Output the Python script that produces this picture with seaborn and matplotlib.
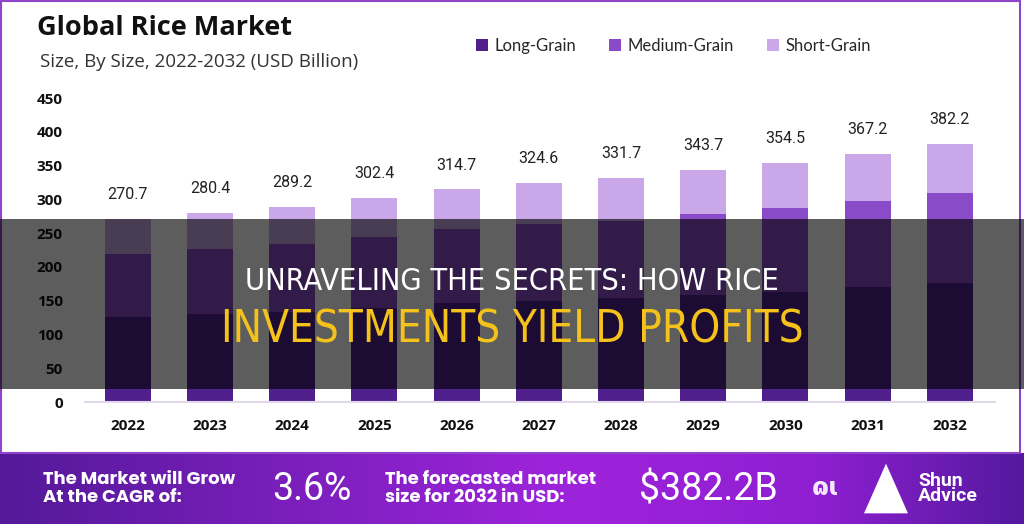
import matplotlib
matplotlib.use("Agg")
import matplotlib.pyplot as plt
from matplotlib.patches import Patch, Rectangle, Polygon
import numpy as np
import pandas as pd
import seaborn as sns

########### DATA ##################################
years = ['2022', '2023', '2024', '2025', '2026', '2027', '2028', '2029', '2030', '2031', '2032']
long_grain = [126.4, 129.9, 133.8, 139.7, 146.2, 150.1, 153.6, 158.5, 163.4, 169.9, 176.7]
medium_grain = [92.4, 96.3, 99.8, 104.3, 110.1, 113.2, 114.5, 119.6, 123.6, 127.9, 132.5]
short_grain = [51.9, 54.2, 55.6, 58.4, 58.4, 61.3, 63.6, 65.6, 67.5, 69.4, 73.0]
totals = [270.7, 280.4, 289.2, 302.4, 314.7, 324.6, 331.7, 343.7, 354.5, 367.2, 382.2]
y_ticks = [0, 50, 100, 150, 200, 250, 300, 350, 400, 450]
series = ['Long-Grain', 'Medium-Grain', 'Short-Grain']
colors = ['#4f1f8b', '#8a4bc9', '#caa7e8']

df = pd.DataFrame({'year': years, 'long': long_grain,
                   'medium': medium_grain, 'short': short_grain})
df['lm'] = df['long'] + df['medium']
df['lms'] = df['lm'] + df['short']

W, H = 1024, 524
sns.set_style("white")
plt.rcParams['font.family'] = ['Open Sans', 'DejaVu Sans']

fig = plt.figure(figsize=(W / 100, H / 100), dpi=100)
fig.patch.set_facecolor('white')

ax = fig.add_axes([85 / W, (H - 402) / H, (995 - 85) / W, (402 - 98) / H])

########### STACKED BARS (drawn back to front) ####
sns.barplot(data=df, x='year', y='lms', color=colors[2], width=0.56,
            saturation=1, linewidth=0, ax=ax)
sns.barplot(data=df, x='year', y='lm', color=colors[1], width=0.56,
            saturation=1, linewidth=0, ax=ax)
sns.barplot(data=df, x='year', y='long', color=colors[0], width=0.56,
            saturation=1, linewidth=0, ax=ax)

for i, t in enumerate(totals):
    ax.annotate(f'{t}', (i, t), xytext=(0, 12), textcoords='offset points',
                ha='center', va='bottom', fontsize=11.5, color='#222222',
                family=['Roboto', 'DejaVu Sans'])

ax.set_xlim(-0.52, 10.55)
ax.set_ylim(0, 450)
ax.set_yticks(y_ticks)
ax.set_yticklabels([str(v) for v in y_ticks], fontweight='bold', fontsize=11)
ax.set_xticks(range(len(years)))
ax.set_xticklabels(years, fontweight='bold', fontsize=11)
ax.tick_params(axis='both', length=0, colors='#111111')
ax.tick_params(axis='y', pad=16)
ax.tick_params(axis='x', pad=12)
ax.set_xlabel('')
ax.set_ylabel('')
for s in ['top', 'right', 'left']:
    ax.spines[s].set_visible(False)
ax.spines['bottom'].set_color('#e2d8ec')
ax.spines['bottom'].set_linewidth(1.5)

########### TITLES / LEGEND #######################
fig.text(37 / W, 1 - 28 / H, 'Global Rice Market', fontsize=19.5, fontweight='bold',
         color='#111111', va='center', ha='left')
fig.text(40 / W, 1 - 62 / H, 'Size, By Size, 2022-2032 (USD Billion)', fontsize=13.5,
         color='#333333', va='center', ha='left')

handles = [Patch(facecolor=c, edgecolor='none') for c in colors]
fig.legend(handles, series, loc='center left', bbox_to_anchor=(476 / W, 1 - 46 / H),
           ncol=3, frameon=False, handlelength=0.7, handleheight=0.7,
           handletextpad=0.4, columnspacing=2.0, borderpad=0, borderaxespad=0,
           prop={'family': ['Lato', 'DejaVu Sans'], 'size': 12})

# purple frame around chart card
fig.patches.append(Rectangle((1 / W, (H - 453) / H), (1020 - 1) / W, (453 - 1) / H,
                             transform=fig.transFigure, fill=False,
                             edgecolor='#8f45c9', linewidth=1.5, zorder=3))

########### DARK OVERLAY BAND #####################
fig.patches.append(Rectangle((0, (H - 389) / H), 1, (389 - 219) / H,
                             transform=fig.transFigure, facecolor='black',
                             alpha=0.635, edgecolor='none', zorder=5))
cond = ['Liberation Sans Narrow', 'DejaVu Sans']
fig.text(0.5, 1 - 281 / H, 'UNRAVELING THE SECRETS: HOW RICE', fontsize=22,
         color='white', ha='center', va='center', family=cond, zorder=6,
         fontstretch='condensed')
fig.text(0.5, 1 - 330 / H, 'INVESTMENTS YIELD PROFITS', fontsize=31.5,
         color='#f4c21b', ha='center', va='center', family=cond, zorder=6,
         fontstretch='condensed')

########### BOTTOM BANNER #########################
bax = fig.add_axes([0, 0, 1, (H - 453) / H])
xs = np.linspace(0, 1, 256)
r = np.interp(xs, [0, 0.55, 0.8, 1], [0.33, 0.62, 0.56, 0.33])
g = np.interp(xs, [0, 0.55, 0.8, 1], [0.10, 0.14, 0.12, 0.10])
b = np.interp(xs, [0, 0.55, 0.8, 1], [0.60, 0.86, 0.82, 0.62])
grad = np.dstack([np.tile(r, (10, 1)), np.tile(g, (10, 1)), np.tile(b, (10, 1))])
bax.imshow(grad, aspect='auto', extent=(0, 1, 0, 1))
bax.set_xlim(0, 1)
bax.set_ylim(0, 1)
bax.axis('off')

pop = ['Poppins', 'Lato', 'DejaVu Sans']
bax.text(43 / W, 0.5, 'The Market will Grow\nAt the CAGR of:', color='white',
         fontsize=13, fontweight='bold', va='center', ha='left', family=pop,
         linespacing=1.0)
bax.text(312 / W, 0.48, '3.6%', color='white', fontsize=27, va='center',
         ha='center', family=['Roboto', 'DejaVu Sans'])
bax.text(385 / W, 0.5, 'The forecasted market\nsize for 2032 in USD:', color='white',
         fontsize=13, fontweight='bold', va='center', ha='left', family=pop,
         linespacing=1.0)
bax.text(708 / W, 0.48, '$382.2B', color='white', fontsize=27, va='center',
         ha='center', family=['Roboto', 'DejaVu Sans'])
bax.text(812 / W, 0.5, 'ɷɩ', color='white', fontsize=18, fontweight='bold',
         va='center', ha='left', alpha=0.9)
bax.add_patch(Polygon([[864 / W, 0.15], [886 / W, 0.85], [908 / W, 0.15]],
                      closed=True, facecolor='white', edgecolor='none'))
bax.text(918 / W, 0.5, 'Shun\nAdvice', color='white', fontsize=14,
         fontweight='bold', va='center', ha='left', linespacing=0.85,
         family=['Roboto', 'DejaVu Sans'])

fig.savefig('out.png', dpi=100)
